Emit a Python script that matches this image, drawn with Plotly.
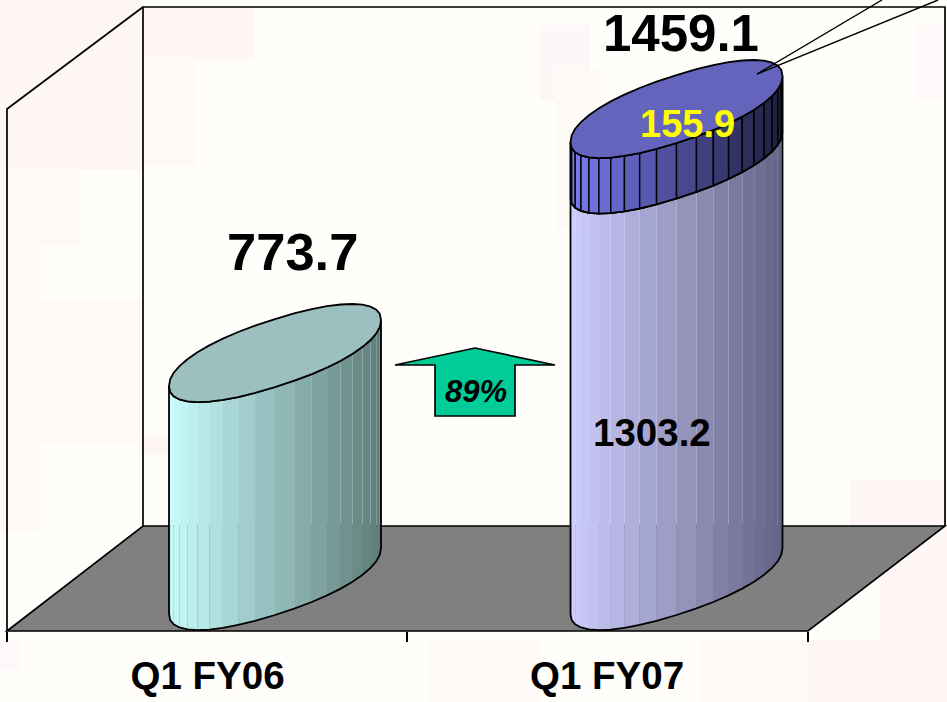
import math
import plotly.graph_objects as go

# ---- chart data ----
categories = ["Q1 FY06", "Q1 FY07"]
base_segment = [773.7, 1303.2]
top_segment = [0.0, 155.9]
totals = [773.7, 1459.1]
growth_label = "89%"

# ---- canvas and value scale ----
WIDTH, HEIGHT = 947, 702
Y_MIN, Y_MAX = -206.5, 1765.4
Y_FLOOR = 133.4                      # value where the columns stand
PX_PER_UNIT = HEIGHT / (Y_MAX - Y_MIN)

category_x = [275, 676.5]            # column centres on the x axis
label_x = [207.5, 607]
boundary_x = [7, 407, 808]

RADIUS_X = 106
SHEAR = 33 / PX_PER_UNIT             # tilt of the cross-section
RADIUS_Y = 34 / PX_PER_UNIT
ROUNDNESS = 0.9                      # below 1 gives a slightly fuller oval
N_SLATS = 20

FONT = "Liberation Sans, Arial, sans-serif"


def px(x):
    return x / WIDTH


def py(y):
    return 1 - y / HEIGHT


def soft(v):
    return math.copysign(abs(v) ** ROUNDNESS, v)


def ring_point(cx, level, t):
    """Point on a column's tilted cross-section, t=0 at the right edge."""
    u, v = soft(math.cos(t)), soft(math.sin(t))
    return (cx + RADIUS_X * u, level + SHEAR * u + RADIUS_Y * v)


def front_angles():
    # From left edge (t=-pi) round the front to the right edge (t=0).
    return [-math.pi + math.pi * i / N_SLATS for i in range(N_SLATS + 1)]


def blend(c0, c1, f):
    return "rgb({},{},{})".format(*[round(a + (b - a) * f) for a, b in zip(c0, c1)])


fig = go.Figure()


def add_segment(cx, low, high, left_rgb, right_rgb, slat_line=None):
    angles = front_angles()
    for a0, a1 in zip(angles[:-1], angles[1:]):
        x0, y0 = ring_point(cx, low, a0)
        x1, y1 = ring_point(cx, low, a1)
        x2, y2 = ring_point(cx, high, a1)
        x3, y3 = ring_point(cx, high, a0)
        f = ((x0 + x1) / 2 - (cx - RADIUS_X)) / (2 * RADIUS_X)
        fig.add_trace(go.Scatter(
            x=[x0, x1, x2, x3, x0], y=[y0, y1, y2, y3, y0],
            mode="lines", fill="toself", fillcolor=blend(left_rgb, right_rgb, f),
            line=dict(width=1.4 if slat_line else 0, color=slat_line or "rgba(0,0,0,0)"),
            hoverinfo="skip", showlegend=False))
    # Silhouette of the segment
    low_pts = [ring_point(cx, low, a) for a in angles]
    high_pts = [ring_point(cx, high, a) for a in reversed(angles)]
    pts = low_pts + high_pts + low_pts[:1]
    fig.add_trace(go.Scatter(
        x=[p[0] for p in pts], y=[p[1] for p in pts], mode="lines",
        line=dict(color="black", width=1.8), hoverinfo="skip", showlegend=False))


def add_cap(cx, level, color):
    pts = [ring_point(cx, level, 2 * math.pi * i / 40) for i in range(41)]
    fig.add_trace(go.Scatter(
        x=[p[0] for p in pts], y=[p[1] for p in pts], mode="lines",
        fill="toself", fillcolor=color, line=dict(color="black", width=1.8),
        hoverinfo="skip", showlegend=False))


# First column: one segment
add_segment(category_x[0], Y_FLOOR, base_segment[0], (200, 252, 252), (94, 125, 122))
add_cap(category_x[0], totals[0], "#9CBFBF")

# Second column: two stacked segments
add_segment(category_x[1], Y_FLOOR, base_segment[1], (206, 206, 255), (98, 98, 132))
add_segment(category_x[1], base_segment[1], base_segment[1] + top_segment[1],
            (122, 122, 240), (30, 30, 62), slat_line="black")
add_cap(category_x[1], totals[1], "#6464BC")

# ---- pale background patches ----
patches = [
    (0, 0, 143, 170, "#FEF6F4"), (143, 7, 255, 60, "#FEF7F5"), (143, 60, 195, 165, "#FEF8F7"),
    (0, 170, 80, 245, "#FEF8F6"), (0, 245, 40, 530, "#FEF9F7"), (40, 300, 143, 445, "#FEFAF7"),
    (140, 435, 170, 455, "#FEF6F4"), (540, 25, 590, 100, "#FEF7F7"), (555, 70, 600, 230, "#FEFAF5"),
    (915, 25, 945, 100, "#FEFAF9"), (850, 480, 947, 526, "#FEF6F4"), (810, 640, 947, 702, "#FEF6F4"),
    (700, 640, 810, 702, "#FEF9F7"), (880, 526, 947, 640, "#FEF7F5"), (430, 640, 540, 702, "#FEFAF7"),
    (0, 640, 20, 670, "#FEF8F8"),
]
shapes = [dict(type="rect", xref="paper", yref="paper", x0=px(a), x1=px(c), y0=py(d), y1=py(b),
               fillcolor=col, line_width=0, layer="below") for a, b, c, d, col in patches]


def path(points, close=False):
    cmds = ["{}{:.5f},{:.5f}".format("M" if i == 0 else "L", px(x), py(y))
            for i, (x, y) in enumerate(points)]
    return " ".join(cmds) + (" Z" if close else "")


# Walls and floor of the chart box
shapes.append(dict(type="path", xref="paper", yref="paper", layer="below",
                   path=path([(143, 526), (945, 526), (808, 631), (7, 631)], True),
                   fillcolor="#808080", line=dict(color="black", width=1.7)))
shapes.append(dict(type="path", xref="paper", yref="paper", layer="below",
                   path=path([(143, 526), (143, 7), (945, 7), (945, 526)]),
                   line=dict(color="black", width=1.7)))
shapes.append(dict(type="path", xref="paper", yref="paper", layer="below",
                   path=path([(7, 631), (7, 109), (143, 7)]),
                   line=dict(color="black", width=1.7)))

# Growth arrow between the columns
shapes.append(dict(type="path", xref="paper", yref="paper", layer="above",
                   path=path([(395, 365), (475, 348), (555, 365), (515, 365),
                              (515, 416), (435, 416), (435, 365)], True),
                   fillcolor="#00CC99", line=dict(color="black", width=1.7)))

# Callout wedge from the top cap
shapes.append(dict(type="path", xref="paper", yref="paper", layer="above",
                   path=path([(882, 0), (757, 74), (938, 0)]),
                   line=dict(color="black", width=1.4)))


def value_label(x, y, yshift, text, size, color="black", italic=False):
    shown = "<b><i>{}</i></b>".format(text) if italic else "<b>{}</b>".format(text)
    return dict(x=x, y=y, xref="x", yref="y", yshift=yshift, text=shown, showarrow=False,
                xanchor="center", yanchor="middle",
                font=dict(family=FONT, size=size, color=color))


annotations = [
    value_label(292.5, totals[0], 102, f"{totals[0]:.1f}", 52.5),
    value_label(681, totals[1], 76, f"{totals[1]:.1f}", 51),
    value_label(687, totals[1], -15, f"{top_segment[1]:.1f}", 38, color="#FFFF00"),
    value_label(652, base_segment[1], -268, f"{base_segment[1]:.1f}", 38.5),
    value_label(476, totals[0], -38, growth_label, 31, italic=True),
]

fig.update_layout(
    width=WIDTH, height=HEIGHT, autosize=False,
    margin=dict(l=0, r=0, t=0, b=0),
    paper_bgcolor="#FFFEFB", plot_bgcolor="rgba(0,0,0,0)",
    showlegend=False, shapes=shapes, annotations=annotations,
    xaxis=dict(
        range=[0, WIDTH], domain=[0, 1], anchor="free", position=(HEIGHT - 631) / HEIGHT,
        tickmode="array", tickvals=label_x, ticktext=[f"<b>{c}</b>" for c in categories],
        ticks="", ticklabelstandoff=18, showgrid=False, zeroline=False, showline=False,
        tickfont=dict(family=FONT, size=38.5, color="black"),
        minor=dict(tickmode="array", tickvals=boundary_x, ticks="outside", ticklen=10,
                   tickwidth=1.7, tickcolor="black", showgrid=False),
    ),
    yaxis=dict(range=[Y_MIN, Y_MAX], domain=[0, 1], visible=False),
)

fig.write_html("out.html", config=dict(displayModeBar=False))
